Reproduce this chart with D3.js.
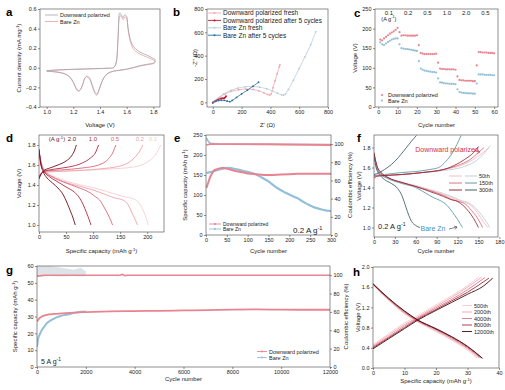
<!DOCTYPE html>
<html><head><meta charset="utf-8">
<script src="https://cdn.jsdelivr.net/npm/d3@7"></script>
<style>body{margin:0;background:#fff}svg text{font-family:Arial,"Liberation Sans",sans-serif;fill:#222}</style>
</head><body>
<svg id="c" width="505" height="390"></svg>
<script>
// ---------- DATA ----------
// panel a: CV curves [V, mA/mg]
const cvDP=[[1.0,-0.03],[1.1,-0.022],[1.2,-0.016],[1.3,-0.012],[1.4,-0.008],[1.47,-0.004],[1.5,0.0],[1.52,0.05],[1.535,0.3],[1.548,0.56],[1.56,0.54],[1.572,0.51],[1.585,0.54],[1.598,0.53],[1.61,0.41],[1.625,0.3],[1.645,0.23],[1.67,0.19],[1.7,0.16],[1.75,0.13],[1.8,0.095],[1.81,0.09],[1.81,0.055],[1.75,0.035],[1.7,0.022],[1.65,0.003],[1.6,-0.013],[1.55,-0.024],[1.5,-0.034],[1.46,-0.055],[1.43,-0.1],[1.41,-0.16],[1.39,-0.24],[1.375,-0.28],[1.36,-0.255],[1.34,-0.18],[1.32,-0.11],[1.3,-0.09],[1.285,-0.11],[1.27,-0.17],[1.255,-0.22],[1.24,-0.24],[1.225,-0.225],[1.2,-0.15],[1.17,-0.09],[1.13,-0.06],[1.08,-0.045],[1.0,-0.035]];
const cvBare=[[1.0,-0.028],[1.1,-0.02],[1.2,-0.015],[1.3,-0.011],[1.4,-0.007],[1.47,-0.003],[1.5,0.0],[1.52,0.04],[1.535,0.28],[1.55,0.53],[1.562,0.52],[1.574,0.49],[1.588,0.52],[1.6,0.5],[1.612,0.38],[1.627,0.27],[1.647,0.2],[1.67,0.165],[1.7,0.14],[1.75,0.11],[1.8,0.08],[1.81,0.075],[1.81,0.05],[1.75,0.03],[1.7,0.018],[1.65,0.0],[1.6,-0.015],[1.55,-0.026],[1.5,-0.036],[1.46,-0.058],[1.43,-0.1],[1.41,-0.155],[1.39,-0.23],[1.377,-0.265],[1.362,-0.245],[1.342,-0.175],[1.322,-0.105],[1.302,-0.085],[1.287,-0.105],[1.272,-0.165],[1.257,-0.215],[1.242,-0.232],[1.227,-0.218],[1.2,-0.145],[1.17,-0.088],[1.13,-0.058],[1.08,-0.043],[1.0,-0.033]];
// panel b: Nyquist [Z', -Z'']
const nyDPfresh=[[8,0],[25,20],[50,45],[85,72],[130,95],[180,108],[230,114],[280,110],[320,98],[355,82],[380,68],[395,62],[405,72],[418,125],[432,185],[447,245],[462,305],[466,322]];
const nyDP5=[[0,-5],[8,5],[18,14],[30,22],[42,28],[55,32],[65,35],[75,34],[82,38],[88,45],[92,52]];
const nyBareFresh=[[5,0],[35,35],[75,72],[125,102],[175,122],[225,133],[275,136],[325,130],[375,116],[415,98],[450,78],[478,64],[492,62],[505,72],[525,110],[560,190],[600,290],[640,390],[680,495],[715,605]];
const nyBare5=[[0,0],[20,8],[40,15],[60,18],[80,17],[100,10],[118,6],[135,16],[165,42],[200,72],[240,104],[280,138],[318,172]];
// panel c: rate capability
const rateLabels=["0.1","0.2","0.5","1.0","2.0","0.5"];
const rateDP=[172,170,175,179,183,187,190,193,197,202, 191,182,183,183,182,182,182,182,182,183, 158,138,136,135,135,135,135,135,135,136, 113,98,97,97,96,96,96,96,96,95, 78,69,68,68,67,67,67,67,66,66, 106,140,140,139,139,139,138,138,138,137];
const rateBare=[165,160,158,162,166,169,172,174,175,175, 160,150,149,148,148,147,146,145,144,143, 117,98,95,93,92,91,90,89,89,88, 73,63,62,61,60,60,59,59,59,58, 45,38,37,36,36,35,35,35,34,34, 60,83,83,83,82,82,82,82,81,81];
// panel d: GCD at different rates [mAh/g, V]
const dRates=["0.1","0.2","0.5","1.0","2.0"];
const dDis=[
 [[0,1.72],[6,1.6],[14,1.53],[35,1.47],[70,1.41],[110,1.36],[140,1.31],[160,1.28],[175,1.26],[185,1.22],[193,1.14],[198,1.07],[202,1.0]],
 [[0,1.73],[5,1.6],[12,1.53],[30,1.47],[60,1.41],[100,1.35],[125,1.3],[140,1.27],[155,1.25],[165,1.2],[172,1.12],[178,1.05],[182,1.0]],
 [[0,1.74],[5,1.6],[12,1.53],[25,1.48],[45,1.43],[70,1.38],[95,1.32],[105,1.28],[112,1.25],[120,1.18],[128,1.1],[133,1.04],[136,1.0]],
 [[0,1.75],[4,1.6],[10,1.53],[20,1.48],[35,1.43],[50,1.38],[65,1.33],[75,1.27],[82,1.2],[88,1.12],[93,1.05],[96,1.0]],
 [[0,1.76],[3,1.62],[8,1.53],[15,1.47],[25,1.42],[35,1.37],[45,1.3],[52,1.22],[58,1.14],[63,1.07],[67,1.0]]];
const dCh=[
 [[0,1.5],[6,1.52],[15,1.53],[60,1.54],[130,1.56],[175,1.58],[200,1.63],[215,1.7],[225,1.8]],
 [[0,1.49],[6,1.52],[14,1.53],[50,1.54],[110,1.56],[150,1.59],[172,1.65],[185,1.73],[192,1.8]],
 [[0,1.48],[5,1.52],[12,1.54],[40,1.55],[80,1.57],[110,1.6],[128,1.66],[137,1.73],[142,1.8]],
 [[0,1.47],[5,1.52],[12,1.54],[30,1.56],[55,1.58],[80,1.62],[95,1.67],[105,1.73],[110,1.8]],
 [[0,1.46],[3,1.5],[8,1.54],[20,1.57],[35,1.6],[50,1.64],[60,1.69],[66,1.75],[69,1.8]]];
// panel e: cycling at 0.2 A/g
const eDPcap=[[1,118],[5,130],[10,145],[15,155],[20,162],[30,166],[40,168],[50,166],[60,163],[70,160],[80,158],[90,156],[100,154],[120,152],[140,150],[160,150],[180,151],[200,152],[220,153],[240,153],[260,153],[280,153],[300,153]];
const eBareCap=[[1,155],[10,157],[20,160],[30,163],[40,166],[50,168],[60,167],[70,165],[80,163],[90,160],[100,158],[110,155],[120,152],[130,146],[140,140],[150,134],[160,126],[170,118],[180,112],[190,106],[200,101],[210,96],[220,92],[230,85],[240,79],[250,74],[260,69],[270,66],[280,63],[290,61],[300,60]];
const eDPce=[[1,99],[10,100],[50,100],[150,99.8],[300,99]];
const eBareCe=[[1,107],[4,104],[10,101],[30,100],[100,99.8],[200,99.6],[300,99.5]];
// panel f: GCD at 50th/150th/300th [mAh/g, V]
const fCycles=["50th","150th","300th"];
const fDPdis=[
 [[0,1.74],[4,1.62],[10,1.55],[20,1.5],[40,1.45],[60,1.41],[80,1.37],[100,1.33],[115,1.29],[125,1.26],[135,1.24],[145,1.18],[153,1.1],[158,1.05],[163,1.0]],
 [[0,1.74],[4,1.62],[10,1.55],[20,1.5],[40,1.45],[60,1.41],[80,1.37],[100,1.32],[112,1.28],[122,1.26],[132,1.23],[140,1.17],[148,1.1],[153,1.04],[156,1.0]],
 [[0,1.75],[4,1.62],[10,1.55],[20,1.5],[40,1.45],[60,1.41],[80,1.36],[100,1.31],[110,1.28],[120,1.26],[128,1.22],[136,1.16],[143,1.09],[147,1.04],[150,1.0]]];
const fDPch=[
 [[0,1.5],[3,1.52],[15,1.52],[40,1.53],[70,1.55],[100,1.58],[120,1.61],[140,1.67],[155,1.74],[165,1.8]],
 [[0,1.5],[3,1.52],[15,1.52],[40,1.53],[70,1.55],[100,1.58],[120,1.62],[138,1.68],[150,1.75],[158,1.8]],
 [[0,1.49],[3,1.51],[15,1.52],[40,1.53],[70,1.55],[100,1.58],[115,1.62],[130,1.68],[143,1.75],[150,1.81]]];
const fBareDis=[
 [[0,1.72],[4,1.6],[10,1.53],[20,1.49],[40,1.45],[60,1.42],[80,1.38],[100,1.34],[115,1.3],[125,1.27],[135,1.25],[145,1.2],[155,1.12],[162,1.05],[166,1.0]],
 [[0,1.72],[4,1.6],[10,1.53],[20,1.49],[40,1.44],[60,1.4],[75,1.34],[85,1.3],[95,1.27],[105,1.22],[113,1.15],[120,1.08],[127,1.0]],
 [[0,1.72],[3,1.6],[8,1.53],[15,1.48],[25,1.44],[34,1.39],[40,1.32],[46,1.2],[50,1.12],[54,1.06],[60,1.02],[66,1.0]]];
const fBareCh=[
 [[0,1.52],[15,1.52],[40,1.53],[70,1.55],[100,1.57],[125,1.6],[145,1.66],[158,1.74],[167,1.82]],
 [[0,1.52],[15,1.53],[40,1.55],[60,1.56],[80,1.58],[93,1.6],[103,1.66],[112,1.74],[119,1.83],[125,1.92]],
 [[0,1.53],[8,1.55],[15,1.58],[25,1.63],[35,1.7],[42,1.76],[50,1.83],[57,1.89],[61,1.92]]];
// panel g: long cycling at 5 A/g
const gDPcap=[[1,27],[100,29],[200,30],[400,31],[700,31.5],[1000,31.8],[1500,32.3],[2000,32.6],[3000,33],[4000,33.2],[5000,33.4],[6000,33.6],[7000,33.8],[8000,34.1],[9000,34.2],[10000,34.1],[11000,34],[12000,34]];
const gBareCap=[[1,12],[50,17],[100,19],[200,22],[300,24],[400,26],[600,28],[800,29.5],[1000,30.5],[1200,31],[1500,32],[1800,32.8],[2000,33]];
const gDPce=[[1,99],[300,100],[3400,100],[3500,101],[3600,99.5],[3700,100],[12000,100]];
const gBareCeHi=[[1,110],[500,110],[1000,108],[1500,106],[1800,108],[2000,104]];
const gBareCeLo=[[1,98],[500,99],[1000,98.5],[1500,99],[1800,98.5],[2000,99]];
// panel h: GCD at long cycles
const hCycles=["500th","2000th","4000th","8000th","12000th"];
const hDis=[
 [[0,1.64],[5,1.34],[10,1.07],[14,0.92],[20,0.72],[25,0.55],[30,0.35],[33,0.2]],
 [[0,1.65],[5,1.35],[10,1.09],[14,0.93],[20,0.74],[25,0.57],[30,0.38],[33.6,0.2]],
 [[0,1.66],[5,1.36],[10,1.1],[14,0.94],[20,0.76],[25,0.59],[30,0.4],[34.1,0.2]],
 [[0,1.66],[5,1.37],[10,1.12],[14,0.95],[20,0.77],[25,0.61],[30,0.42],[34.5,0.2]],
 [[0,1.67],[5,1.38],[10,1.13],[14,0.96],[20,0.78],[25,0.62],[30,0.43],[34.8,0.19]]];
const hCh=[
 [[0,0.46],[5,0.68],[10,0.89],[14,1.03],[20,1.25],[25,1.43],[30,1.63],[33.5,1.8]],
 [[0,0.44],[5,0.65],[10,0.86],[14,1.0],[20,1.22],[25,1.4],[30,1.6],[34.5,1.8]],
 [[0,0.42],[5,0.62],[10,0.83],[14,0.98],[20,1.19],[25,1.36],[30,1.55],[35.5,1.79]],
 [[0,0.4],[5,0.6],[10,0.8],[14,0.96],[20,1.16],[25,1.33],[30,1.5],[36.8,1.78]],
 [[0,0.38],[5,0.58],[10,0.78],[14,0.94],[20,1.14],[25,1.3],[30,1.46],[35,1.62],[38,1.78]]];

// ---------- STYLE ----------
const PINK='#e9838f', BLUE='#93bfd8';
const dCols=['#f6cdd2','#eea3ac','#d9677a','#b02a40','#6e0f1e'];
const fDPcols=['#f3b6be','#e0606f','#8b1a2a'];
const fBareCols=['#b8c8d8','#4d8f9a','#2f4f5a'];
const hCols=['#f6c9cf','#efa5ae','#dd7684','#a52a3b','#3d0a10'];

const svg=d3.select('#c');
function rich(t,s,fs){
  const parts=s.split(/(\^\{[^}]*\})/);let back=0;
  parts.forEach(p=>{if(!p)return;
    if(p.startsWith('^{')){t.append('tspan').attr('dy',-fs*0.4).attr('font-size',fs*0.7).text(p.slice(2,-1));back=fs*0.4;}
    else{t.append('tspan').attr('dy',back).text(p);back=0;}});
  return t;
}
function txt(g,x,y,s,fs,anchor,col){const t=g.append('text').attr('x',x).attr('y',y).attr('font-size',fs).attr('text-anchor',anchor||'start');if(col)t.style('fill',col);return rich(t,s,fs);}
function styleAxis(a){a.select('.domain').remove();a.selectAll('line').attr('stroke','#444').attr('stroke-width',0.6);a.selectAll('text').attr('font-size',5.5);}
function panel(o){
  const x=d3.scaleLinear().domain(o.xd).range([o.l,o.r]);
  const y=d3.scaleLinear().domain(o.yd).range([o.b,o.t]);
  const g=svg.append('g');
  styleAxis(g.append('g').attr('transform',`translate(0,${o.b})`).call(d3.axisBottom(x).tickValues(o.xt).tickFormat(o.xf||d3.format('')).tickSize(2).tickPadding(1.5)));
  styleAxis(g.append('g').attr('transform',`translate(${o.l},0)`).call(d3.axisLeft(y).tickValues(o.yt).tickFormat(o.yf||d3.format('')).tickSize(2).tickPadding(1.5)));
  const clip='clip'+o.letter;
  svg.append('clipPath').attr('id',clip).append('rect').attr('x',o.l).attr('y',o.t).attr('width',o.r-o.l).attr('height',o.b-o.t);
  const plot=g.append('g').attr('clip-path',`url(#${clip})`);
  g.append('rect').attr('x',o.l).attr('y',o.t).attr('width',o.r-o.l).attr('height',o.b-o.t).attr('fill','none').attr('stroke','#444').attr('stroke-width',0.6);
  svg.append('text').attr('x',o.lx).attr('y',o.ly).attr('font-size',11.5).attr('font-weight','bold').style('fill','#000').text(o.letter);
  txt(g,(o.l+o.r)/2,o.xly,o.xlab,6,'middle');
  const yt=g.append('text').attr('transform',`translate(${o.ylx},${(o.t+o.b)/2}) rotate(-90)`).attr('font-size',6).attr('text-anchor','middle');
  rich(yt,o.ylab,6);
  return {x,y,g,plot};
}
function rightAxis(P,o){
  const y2=d3.scaleLinear().domain(o.yd).range([o.b,o.t]);
  styleAxis(P.g.append('g').attr('transform',`translate(${o.r},0)`).call(d3.axisRight(y2).tickValues(o.yt).tickSize(2).tickPadding(1.5)));
  const t=P.g.append('text').attr('transform',`translate(${o.ylx},${(o.t+o.b)/2}) rotate(-90)`).attr('font-size',6).attr('text-anchor','middle');
  rich(t,o.ylab,6);
  return y2;
}
const f1=d3.format('.1f');
function line(P,data,col,w,yS,curve){
  const ys=yS||P.y;
  return P.plot.append('path').datum(data).attr('fill','none').attr('stroke',col).attr('stroke-width',w||0.8)
    .attr('d',d3.line().x(d=>P.x(d[0])).y(d=>ys(d[1])).curve(curve||d3.curveLinear));
}
function dots(P,data,col,r,yS){
  const ys=yS||P.y;
  P.plot.append('g').selectAll('circle').data(data).join('circle').attr('cx',d=>P.x(d[0])).attr('cy',d=>ys(d[1])).attr('r',r||0.9).attr('fill',col);
}

// ---------- a ----------
{const P=panel({letter:'a',lx:6,ly:16,l:40,t:9,r:160,b:107,xd:[0.95,1.85],yd:[-0.4,0.6],xt:[1.0,1.2,1.4,1.6,1.8],yt:[-0.4,-0.2,0,0.2,0.4,0.6],xf:f1,yf:f1,xlab:'Voltage (V)',xly:127,ylab:'Current density (mA mg^{-1})',ylx:21});
 line(P,cvBare,'#e7a0a8',0.8,null,d3.curveCatmullRom);
 line(P,cvDP,'#a4a4aa',0.8,null,d3.curveCatmullRom);
 [['Downward polarized','#a4a4aa'],['Bare Zn','#e7a0a8']].forEach((d,i)=>{
   P.g.append('line').attr('x1',45).attr('x2',58).attr('y1',15+i*6.5).attr('y2',15+i*6.5).attr('stroke',d[1]).attr('stroke-width',0.8);
   txt(P.g,60,17+i*6.5,d[0],5.5);});
}
// ---------- b ----------
{const P=panel({letter:'b',lx:173,ly:16,l:207,t:9,r:328,b:107,xd:[-40,800],yd:[-40,800],xt:[0,200,400,600,800],yt:[0,200,400,600,800],xlab:"Z' (\u03a9)",xly:127,ylab:"-Z'' (\u03a9)",ylx:197});
 const ser=[[nyDPfresh,'#f2a7b0','Downward polarized fresh'],[nyDP5,'#c8102e','Downward polarized after 5 cycles'],[nyBareFresh,'#b9cdd6','Bare Zn fresh'],[nyBare5,'#2b6f9e','Bare Zn after 5 cycles']];
 ser.forEach(s=>{line(P,s[0],s[1],0.8,null,d3.curveCatmullRom);dots(P,s[0],s[1],0.9);});
 ser.forEach((s,i)=>{const yy=13+i*7.4;
   P.g.append('line').attr('x1',208).attr('x2',221).attr('y1',yy).attr('y2',yy).attr('stroke',s[1]).attr('stroke-width',0.9);
   P.g.append('circle').attr('cx',214.5).attr('cy',yy).attr('r',1).attr('fill',s[1]);
   txt(P.g,223,yy+2.3,s[2],6.5);});
}
// ---------- c ----------
{const P=panel({letter:'c',lx:354,ly:17,l:375,t:9,r:498,b:107,xd:[-1.7,62],yd:[0,250],xt:[0,10,20,30,40,50,60],yt:[0,50,100,150,200,250],xlab:'Cycle number',xly:127,ylab:'Voltage (V)',ylx:357});
 dots(P,rateDP.map((v,i)=>[i+1,v]),PINK,1.1);
 dots(P,rateBare.map((v,i)=>[i+1,v]),BLUE,1.1);
 rateLabels.forEach((r,i)=>txt(P.g,P.x(i*10+5.5),14.5,r,6,'middle'));
 txt(P.g,P.x(5.5),20.5,'(A g^{-1})',5.5,'middle');
 [['Downward polarized',PINK],['Bare Zn',BLUE]].forEach((d,i)=>{
   P.g.append('circle').attr('cx',382).attr('cy',95+i*5.5).attr('r',1.1).attr('fill',d[1]);
   txt(P.g,388,97+i*5.5,d[0],5.5);});
}
// ---------- d ----------
{const P=panel({letter:'d',lx:6,ly:142,l:39,t:135,r:164,b:232,xd:[0,231],yd:[0.93,1.9],xt:[0,50,100,150,200],yt:[1.0,1.2,1.4,1.6,1.8],yf:f1,xlab:'Specific capacity (mAh g^{-1})',xly:253,ylab:'Voltage (V)',ylx:21});
 dRates.forEach((r,i)=>{line(P,dDis[i],dCols[i],0.9,null,d3.curveMonotoneX);line(P,dCh[i],dCols[i],0.9,null,d3.curveMonotoneX);});
 const lx=[153,140,115,93,72];
 dRates.forEach((r,i)=>txt(P.g,lx[i],141,r,6,'middle',dCols[i]));
 txt(P.g,57,141,'(A g^{-1})',6,'middle','#6e0f1e');
}
// ---------- e ----------
{const o={letter:'e',lx:174,ly:142,l:206,t:135,r:331,b:235,xd:[0,300],yd:[0,250],xt:[0,50,100,150,200,250,300],yt:[0,50,100,150,200,250],xlab:'Cycle number',xly:253,ylab:'Specific capacity (mAh g^{-1})',ylx:187};
 const P=panel(o);
 const y2=rightAxis(P,{r:331,t:135,b:235,yd:[0,110],yt:[0,20,40,60,80,100],ylab:'Coulombic efficiency (%)',ylx:352});
 line(P,eBareCe,BLUE,1.6,y2);
 line(P,eDPce,PINK,1.8,y2);
 line(P,eBareCap,BLUE,2.2);
 line(P,eDPcap,PINK,2.0);
 [['Downward polarized',PINK],['Bare Zn',BLUE]].forEach((d,i)=>{
   P.g.append('line').attr('x1',209).attr('x2',221).attr('y1',224+i*5).attr('y2',224+i*5).attr('stroke',d[1]).attr('stroke-width',0.9);
   P.g.append('circle').attr('cx',215).attr('cy',224+i*5).attr('r',1).attr('fill',d[1]);
   txt(P.g,223,226+i*5,d[0],5);});
 txt(P.g,293,233,'0.2 A g^{-1}',8);
}
// ---------- f ----------
{const P=panel({letter:'f',lx:357,ly:142,l:374,t:135,r:498,b:237,xd:[0,178],yd:[0.905,1.925],xt:[0,30,60,90,120,150,180],yt:[1.0,1.2,1.4,1.6,1.8],yf:f1,xlab:'Cycle number',xly:253,ylab:'Voltage (V)',ylx:361});
 [0,1,2].forEach(i=>{line(P,fBareDis[i],fBareCols[i],0.8,null,d3.curveMonotoneX);line(P,fBareCh[i],fBareCols[i],0.8,null,d3.curveMonotoneX);});
 [0,1,2].forEach(i=>{line(P,fDPdis[i],fDPcols[i],0.8,null,d3.curveMonotoneX);line(P,fDPch[i],fDPcols[i],0.8,null,d3.curveMonotoneX);});
 fCycles.forEach((c,i)=>{const yy=176+i*7;
   P.g.append('line').attr('x1',449).attr('x2',462).attr('y1',yy).attr('y2',yy).attr('stroke',fDPcols[i]).attr('stroke-width',0.9);
   P.g.append('line').attr('x1',465).attr('x2',477).attr('y1',yy).attr('y2',yy).attr('stroke',fBareCols[i]).attr('stroke-width',0.9);
   txt(P.g,479,yy+2,c,5.5);});
 txt(P.g,447,152,'Downward polarized',7,'middle','#d0344a');
 P.g.append('path').attr('d','M474,150 L480,152 M480,152 L477,149.5 M480,152 L477,153.5').attr('stroke','#d0344a').attr('stroke-width',0.6).attr('fill','none');
 txt(P.g,433,231,'Bare Zn',7,'middle','#4a8fc0');
 P.g.append('path').attr('d','M449,229 L457,227 M457,227 L454,226 M457,227 L455,229.5').attr('stroke','#333').attr('stroke-width',0.6).attr('fill','none');
 txt(P.g,378,229,'0.2 A g^{-1}',7.5);
}
// ---------- g ----------
{const o={letter:'g',lx:6,ly:274,l:37,t:266,r:330,b:367,xd:[0,12000],yd:[0,60],xt:[0,2000,4000,6000,8000,10000,12000],yt:[0,10,20,30,40,50,60],xlab:'Cycle number',xly:381,ylab:'Specific capacity (mAh g^{-1})',ylx:17};
 const P=panel(o);
 const y2=rightAxis(P,{r:330,t:266,b:367,yd:[0,110],yt:[0,20,40,60,80,100],ylab:'Coulombic efficiency (%)',ylx:348});
 P.plot.append('path').datum(gBareCeHi.map((d,i)=>[d[0],d[1],gBareCeLo[i][1]])).attr('fill','#d6dce2').attr('opacity',0.8)
   .attr('d',d3.area().x(d=>P.x(d[0])).y0(d=>y2(d[2])).y1(d=>y2(d[1])));
 line(P,gDPce,PINK,1.6,y2);
 line(P,gBareCap,BLUE,2.0,null,d3.curveMonotoneX);
 line(P,gDPcap,PINK,1.8,null,d3.curveMonotoneX);
 [['Downward polarized',PINK],['Bare Zn',BLUE]].forEach((d,i)=>{
   P.g.append('line').attr('x1',257).attr('x2',267).attr('y1',351.5+i*6).attr('y2',351.5+i*6).attr('stroke',d[1]).attr('stroke-width',0.9);
   P.g.append('circle').attr('cx',262).attr('cy',351.5+i*6).attr('r',1).attr('fill',d[1]);
   txt(P.g,269,353.5+i*6,d[0],5.5);});
 txt(P.g,41,364,'5 A g^{-1}',7);
}
// ---------- h ----------
{const P=panel({letter:'h',lx:353,ly:276,l:373,t:267,r:499,b:368,xd:[0,40],yd:[0,2.0],xt:[0,10,20,30,40],yt:[0,0.4,0.8,1.2,1.6,2.0],yf:f1,xlab:'Specific capacity (mAh g^{-1})',xly:383,ylab:'Voltage (V)',ylx:360});
 hCycles.forEach((c,i)=>{line(P,hDis[i],hCols[i],0.9,null,d3.curveMonotoneX);line(P,hCh[i],hCols[i],0.9,null,d3.curveMonotoneX);});
 hCycles.forEach((c,i)=>{const yy=305.5+i*6.5;
   P.g.append('line').attr('x1',462).attr('x2',472).attr('y1',yy).attr('y2',yy).attr('stroke',hCols[i]).attr('stroke-width',0.9);
   txt(P.g,474,yy+2,c,5.5);});
}
</script>
</body></html>
